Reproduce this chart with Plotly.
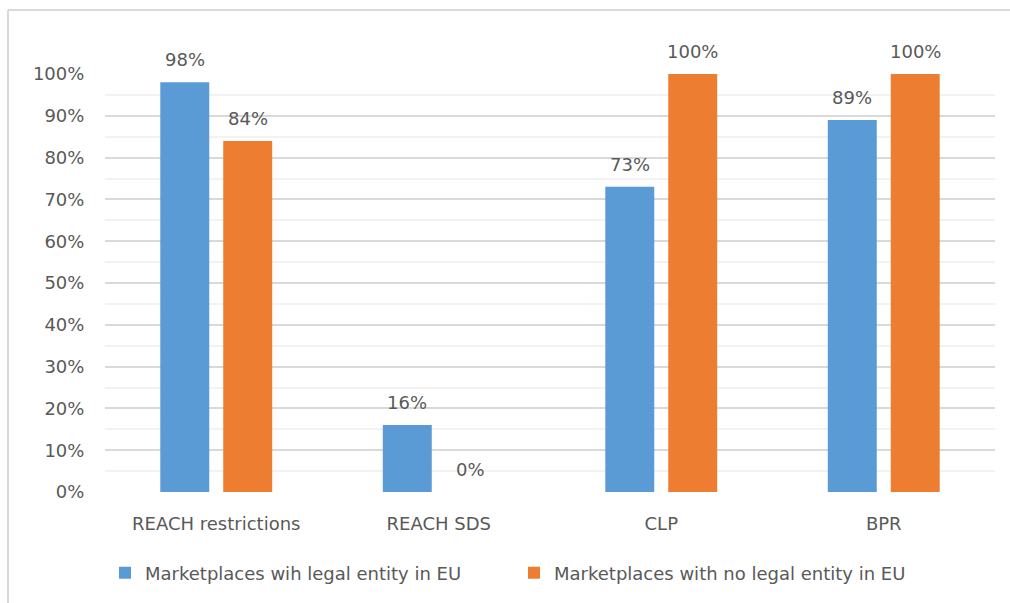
import plotly.graph_objects as go

categories = ["REACH restrictions", "REACH SDS", "CLP", "BPR"]
with_eu_entity = [0.98, 0.16, 0.73, 0.89]
no_eu_entity = [0.84, 0.00, 1.00, 1.00]
series_names = ["Marketplaces wih legal entity in EU", "Marketplaces with no legal entity in EU"]
tick_vals = [i / 10 for i in range(11)]
tick_text = [f"{i * 10}%" for i in range(11)]

BLUE = "#5B9BD5"
ORANGE = "#ED7D31"
TEXT = "#595959"
FONT = "DejaVu Sans"
FS = 18

W, H = 1010, 603
L, R, T, B = 105, 15, 74, 111
pw, ph = W - L - R, H - T - B

BARGAP = 0.4343
GROUPGAP = 0.222
cat_w = pw / len(categories)
slot = cat_w * (1 - BARGAP) / 2

fig = go.Figure()
series = [(series_names[0], with_eu_entity, BLUE, -slot / 2),
          (series_names[1], no_eu_entity, ORANGE, slot / 2)]
for name, vals, color, shift in series:
    fig.add_trace(go.Bar(
        x=categories, y=vals, name=name,
        marker=dict(color=color, line=dict(width=0)),
        cliponaxis=False,
    ))
    # value labels above each bar
    for cat, v in zip(categories, vals):
        fig.add_annotation(
            x=cat, y=v, xref="x", yref="y", text=f"{round(v * 100)}%",
            showarrow=False, xanchor="center", yanchor="bottom",
            xshift=shift, yshift=10,
            font=dict(size=FS, color=TEXT, family=FONT),
        )

def px_x(p):
    return (p - L) / pw

def px_y(p):
    return (H - B - p) / ph

# outer chart frame (left and top edges)
frame = dict(color="#D9D9D9", width=2)
fig.add_shape(type="line", xref="paper", yref="paper",
              x0=px_x(8), x1=px_x(8), y0=px_y(603), y1=px_y(10), line=frame)
fig.add_shape(type="line", xref="paper", yref="paper",
              x0=px_x(8), x1=px_x(1010), y0=px_y(10), y1=px_y(10), line=frame)

fig.update_layout(
    width=W, height=H,
    margin=dict(l=L, r=R, t=T, b=B),
    paper_bgcolor="white", plot_bgcolor="white",
    barmode="group", bargap=BARGAP, bargroupgap=GROUPGAP,
    font=dict(family=FONT, size=FS, color=TEXT),
    showlegend=True,
    legend=dict(orientation="h", x=px_x(105), xanchor="left",
                y=px_y(573), yanchor="middle",
                font=dict(size=FS, color=TEXT, family=FONT),
                entrywidth=364, entrywidthmode="pixels",
                traceorder="normal"),
    xaxis=dict(showgrid=False, zeroline=False, showline=False,
               tickfont=dict(size=FS, color=TEXT), ticks="outside",
               ticklen=15, tickcolor="rgba(0,0,0,0)"),
    yaxis=dict(range=[0, 1], tickvals=tick_vals, ticktext=tick_text,
               showgrid=True, gridcolor="#D9D9D9", gridwidth=2,
               zeroline=False, showline=False,
               minor=dict(dtick=0.05, showgrid=True, gridcolor="#F2F2F2", gridwidth=2),
               tickfont=dict(size=FS, color=TEXT), ticks="outside",
               ticklen=16, tickcolor="rgba(0,0,0,0)"),
)

fig.write_html("out.html")
